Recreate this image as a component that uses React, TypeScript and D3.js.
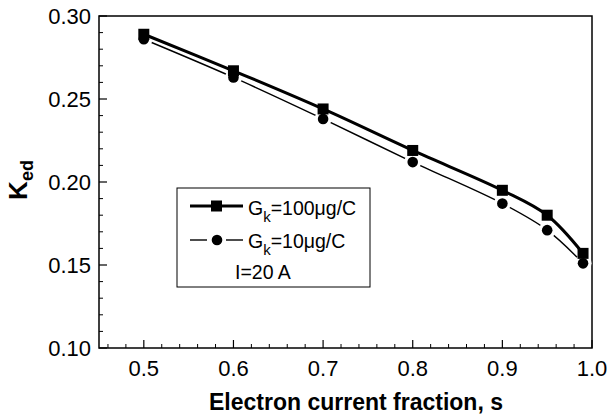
import React from 'react';
import * as d3 from 'd3';

const sValues = [0.5, 0.6, 0.7, 0.8, 0.9, 0.95, 0.99];
const ked100 = [0.289, 0.267, 0.244, 0.219, 0.195, 0.180, 0.157];
const ked10 = [0.286, 0.263, 0.238, 0.212, 0.187, 0.171, 0.151];
const xTicks = [0.5, 0.6, 0.7, 0.8, 0.9, 1.0];
const yTicks = [0.10, 0.15, 0.20, 0.25, 0.30];

const W = 609;
const H = 418;
const m = { left: 99, right: 17, top: 16, bottom: 70 };
const font = 'Liberation Sans, Arial, Helvetica, sans-serif';

const App = () => {
    const x = d3.scaleLinear().domain([0.45, 1.0]).range([m.left, W - m.right]);
    const y = d3.scaleLinear().domain([0.10, 0.30]).range([H - m.bottom, m.top]);

    const line = d3.line<[number, number]>()
        .x(d => x(d[0]))
        .y(d => y(d[1]))
        .curve(d3.curveCatmullRom.alpha(0.5));

    const pts100 = sValues.map((s, i) => [s, ked100[i]] as [number, number]);
    const pts10 = sValues.map((s, i) => [s, ked10[i]] as [number, number]);

    const xMinor = d3.range(0.46, 1.0, 0.02).filter(v => !xTicks.some(t => Math.abs(t - v) < 1e-6));
    const yMinor = d3.range(0.11, 0.30, 0.01).filter(v => !yTicks.some(t => Math.abs(t - v) < 1e-6));

    const bottom = H - m.bottom;
    const left = m.left;
    const right = W - m.right;

    // legend box
    const lgX = 177, lgY = 188, lgW = 193, lgH = 99;

    return (
        <svg width={W} height={H} style={{ position: 'absolute', left: 0, top: 0, background: '#fff' }}>
            <rect x={0} y={0} width={W} height={H} fill="#fff" />

            {/* axes frame */}
            <rect x={left} y={m.top} width={right - left} height={bottom - m.top} fill="none" stroke="#000" strokeWidth={1.5} />

            {/* x ticks */}
            {xTicks.map(t => (
                <g key={'xt' + t}>
                    <line x1={x(t)} x2={x(t)} y1={bottom} y2={bottom - 8} stroke="#000" strokeWidth={1.2} />
                    <text x={x(t)} y={bottom + 28} textAnchor="middle" fontFamily={font} fontSize={22}>{t.toFixed(1)}</text>
                </g>
            ))}
            {xMinor.map(t => (
                <line key={'xm' + t} x1={x(t)} x2={x(t)} y1={bottom} y2={bottom - 4} stroke="#000" strokeWidth={1} />
            ))}

            {/* y ticks */}
            {yTicks.map(t => (
                <g key={'yt' + t}>
                    <line x1={left} x2={left + 8} y1={y(t)} y2={y(t)} stroke="#000" strokeWidth={1.2} />
                    <text x={left - 8} y={y(t) + 8} textAnchor="end" fontFamily={font} fontSize={22}>{t.toFixed(2)}</text>
                </g>
            ))}
            {yMinor.map(t => (
                <line key={'ym' + t} x1={left} x2={left + 4} y1={y(t)} y2={y(t)} stroke="#000" strokeWidth={1} />
            ))}

            {/* axis titles */}
            <text x={356} y={410} textAnchor="middle" fontFamily={font} fontSize={23} fontWeight="bold">
                Electron current fraction, s
            </text>
            <text transform={`translate(27, 180) rotate(-90)`} textAnchor="middle" fontFamily={font} fontSize={26} fontWeight="bold">
                K<tspan fontSize={18} dy={6}>ed</tspan>
            </text>

            {/* 10 ug/C series: thin line with gaps at markers */}
            <path d={line(pts10) || ''} fill="none" stroke="#000" strokeWidth={1.4} />
            {pts10.map((p, i) => (
                <circle key={'g' + i} cx={x(p[0])} cy={y(p[1])} r={8.5} fill="#fff" />
            ))}
            {pts10.map((p, i) => (
                <circle key={'c' + i} cx={x(p[0])} cy={y(p[1])} r={5.3} fill="#000" />
            ))}

            {/* 100 ug/C series */}
            <path d={line(pts100) || ''} fill="none" stroke="#000" strokeWidth={3} />
            {pts100.map((p, i) => (
                <rect key={'s' + i} x={x(p[0]) - 5.5} y={y(p[1]) - 5.5} width={11} height={11} fill="#000" />
            ))}

            {/* legend */}
            <rect x={lgX} y={lgY} width={lgW} height={lgH} fill="#fff" stroke="#000" strokeWidth={1} />
            <line x1={190} x2={243} y1={206} y2={206} stroke="#000" strokeWidth={3} />
            <rect x={211} y={200.5} width={11} height={11} fill="#000" />
            <text x={248} y={215} fontFamily={font} fontSize={19.5}>
                G<tspan fontSize={15} dy={7}>k</tspan><tspan dy={-7}>=100μg/C</tspan>
            </text>
            <line x1={190} x2={207} y1={240} y2={240} stroke="#000" strokeWidth={1.4} />
            <line x1={226} x2={243} y1={240} y2={240} stroke="#000" strokeWidth={1.4} />
            <circle cx={217} cy={240} r={5.3} fill="#000" />
            <text x={248} y={248} fontFamily={font} fontSize={19.5}>
                G<tspan fontSize={15} dy={7}>k</tspan><tspan dy={-7}>=10μg/C</tspan>
            </text>
            <text x={235} y={279} fontFamily={font} fontSize={19.5}>I=20 A</text>
        </svg>
    );
};

export default App;
